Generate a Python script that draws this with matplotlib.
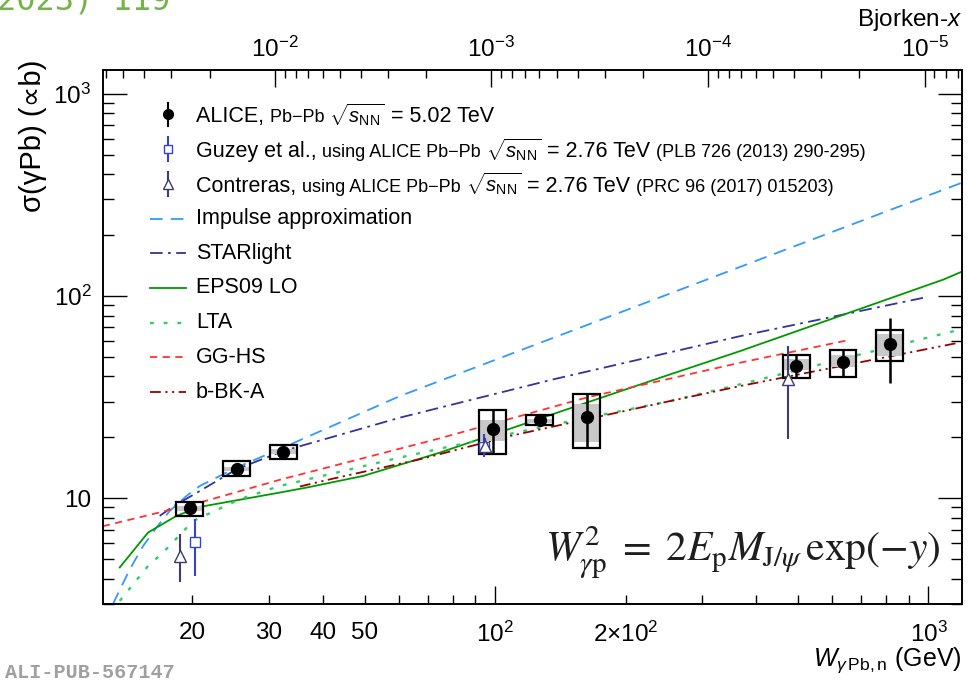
import numpy as np
import matplotlib
matplotlib.use('Agg')
import matplotlib.pyplot as plt
from matplotlib.patches import Rectangle
from matplotlib.lines import Line2D
from matplotlib.offsetbox import TextArea, HPacker, VPacker, DrawingArea, AnchoredOffsetbox
from matplotlib.ticker import FixedLocator, FixedFormatter, NullFormatter, LogLocator

plt.rcParams['font.family'] = ['Liberation Sans', 'DejaVu Sans']
plt.rcParams['mathtext.fontset'] = 'custom'
plt.rcParams['mathtext.rm'] = 'Liberation Sans'
plt.rcParams['mathtext.it'] = 'Liberation Sans:italic'
plt.rcParams['mathtext.bf'] = 'Liberation Sans:bold'
plt.rcParams['mathtext.sf'] = 'Liberation Sans'

# ---------------- data ----------------
alice_W = [19.7, 25.3, 32.4, 98.7, 126.6, 162.6, 495.7, 635.0, 814.0]
alice_sigma = [8.93, 14.0, 17.0, 21.9, 24.3, 25.2, 45.0, 47.1, 57.6]
alice_stat_lo = [8.8, 13.85, 16.8, 16.5, 24.0, 17.8, 39.1, 39.9, 37.1]
alice_stat_hi = [9.1, 14.15, 17.2, 27.2, 24.6, 32.6, 51.0, 53.9, 78.2]
alice_syst_lo = [8.18, 12.88, 15.57, 16.5, 22.9, 17.8, 39.1, 39.9, 47.6]
alice_syst_hi = [9.59, 15.27, 18.34, 27.2, 25.8, 32.6, 51.0, 53.9, 67.8]
alice_corr_lo = [8.65, 13.64, 16.5, 19.2, 23.6, 18.9, 43.1, 44.3, 50.5]
alice_corr_hi = [9.16, 14.34, 17.44, 24.5, 24.75, 29.1, 48.6, 50.8, 64.6]

guzey_W = [20.25, 94.2]
guzey_sigma = [6.11, 17.86]
guzey_lo = [4.14, 15.95]
guzey_hi = [7.88, 20.7]

contreras_W = [18.77, 94.7, 473.8]
contreras_sigma = [5.19, 18.13, 38.7]
contreras_lo = [3.85, 16.6, 19.56]
contreras_hi = [6.64, 19.8, 56.3]

ia_W = [13.11, 14.34, 15.39, 16.52, 17.73, 19.38, 20.80, 25.28, 32.39, 60.24, 1196]
ia_sigma = [3.00, 4.46, 5.81, 7.17, 8.66, 10.26, 11.50, 14.18, 17.80, 32.0, 363.5]

star_W = [16.81, 17.89, 20.80, 25.28, 32.39, 60.24, 136.1, 367.4, 974]
star_sigma = [8.18, 9.00, 10.86, 13.91, 17.12, 25.03, 38.7, 63.3, 98.0]

eps_W = [13.59, 15.80, 18.37, 20.80, 31.82, 36.68, 49.56, 74.5, 162.6, 253.2, 367.4, 1083, 1196]
eps_sigma = [4.55, 6.77, 8.18, 9.06, 10.67, 11.29, 12.89, 16.81, 29.7, 40.95, 53.4, 120.6, 132.1]

lta_W = [13.59, 15.80, 17.11, 20.07, 25.73, 31.82, 60.24, 74.5, 143.6, 253.2, 367.4, 1184]
lta_sigma = [3.11, 4.63, 5.39, 7.72, 9.89, 11.50, 15.89, 17.59, 23.65, 30.23, 36.56, 68.3]

gghs_W = [12.42, 20.80, 31.82, 74.5, 162.8, 367.4, 653.5]
gghs_sigma = [7.27, 9.52, 12.34, 19.79, 31.5, 46.79, 60.5]

bbk_W = [35.4, 42.25, 57.1, 67.0, 108.1, 253.2, 367.4, 1173]
bbk_sigma = [11.43, 12.51, 14.44, 15.58, 20.31, 30.23, 35.86, 58.7]

x_tick_major = [100, 1000]
x_tick_major_labels = [r'$10^2$', r'$10^3$']
x_tick_minor_labeled = {20: '20', 30: '30', 40: '40', 50: '50', 200: r'$2{\times}10^2$'}

M_JPSI = 3.0969
W_MIN, W_MAX = 12.4, 1195.0
S_MIN, S_MAX = 3.0, 1310.0

# ---------------- styles ----------------
C_IA = '#3399ff'
C_STAR = '#333399'
C_EPS = '#009900'
C_LTA = '#33cc66'
C_GG = '#ff3333'
C_BBK = '#990000'
C_GUZ = '#3344cc'
C_CON = '#3c3c6e'
LW = 1.3
styles = {
    'ia': dict(color=C_IA, lw=LW, dashes=(7, 4.5)),
    'star': dict(color=C_STAR, lw=LW, dashes=(7, 3, 1.5, 3)),
    'eps': dict(color=C_EPS, lw=LW, linestyle='-'),
    'lta': dict(color=C_LTA, lw=LW + 0.4, dashes=(1.6, 4.2)),
    'gg': dict(color=C_GG, lw=LW, dashes=(4, 3)),
    'bbk': dict(color=C_BBK, lw=LW, dashes=(6, 2.5, 1.2, 2.5, 1.2, 2.5)),
}

fig = plt.figure(figsize=(9.68, 6.83), dpi=100)
L, R, T, B = 102.5, 962, 70, 604
ax = fig.add_axes([L / 968, 1 - B / 683, (R - L) / 968, (B - T) / 683])
ax.set_xscale('log')
ax.set_yscale('log')
ax.set_xlim(W_MIN, W_MAX)
ax.set_ylim(S_MIN, S_MAX)

# curves
ax.plot(ia_W, ia_sigma, **styles['ia'], zorder=2)
ax.plot(star_W, star_sigma, **styles['star'], zorder=2)
ax.plot(eps_W, eps_sigma, **styles['eps'], zorder=2)
ax.plot(lta_W, lta_sigma, **styles['lta'], zorder=2)
ax.plot(gghs_W, gghs_sigma, **styles['gg'], zorder=2)
ax.plot(bbk_W, bbk_sigma, **styles['bbk'], zorder=2)

# ALICE boxes
fbox = 10 ** 0.031
for w, clo, chi, slo, shi in zip(alice_W, alice_corr_lo, alice_corr_hi, alice_syst_lo, alice_syst_hi):
    ax.add_patch(Rectangle((w / fbox, clo), w * fbox - w / fbox, chi - clo,
                           facecolor='#c8c8c8', edgecolor='none', zorder=3))
    ax.add_patch(Rectangle((w / fbox, slo), w * fbox - w / fbox, shi - slo,
                           facecolor='none', edgecolor='black', lw=1.6, zorder=4))
asig = np.array(alice_sigma)
ax.errorbar(alice_W, asig, yerr=[asig - np.array(alice_stat_lo), np.array(alice_stat_hi) - asig],
            fmt='o', color='black', ms=8.5, elinewidth=1.8, capsize=0, zorder=5)

gs = np.array(guzey_sigma)
ax.errorbar(guzey_W, gs, yerr=[gs - np.array(guzey_lo), np.array(guzey_hi) - gs],
            fmt='s', mfc='white', mec=C_GUZ, color=C_GUZ, ms=7, mew=1.0, elinewidth=1.5,
            capsize=0, zorder=6)
cs = np.array(contreras_sigma)
ax.errorbar(contreras_W, cs, yerr=[cs - np.array(contreras_lo), np.array(contreras_hi) - cs],
            fmt='^', mfc='white', mec=C_CON, color=C_CON, ms=8, mew=1.0, elinewidth=1.5,
            capsize=0, zorder=6)

# ticks
for sp in ax.spines.values():
    sp.set_linewidth(1.2)
ax.xaxis.set_major_locator(FixedLocator(x_tick_major))
ax.xaxis.set_major_formatter(FixedFormatter(x_tick_major_labels))
minor_locs = [m * 10 ** e for e in (1, 2) for m in range(2, 10)]
ax.xaxis.set_minor_locator(FixedLocator(minor_locs))
ax.xaxis.set_minor_formatter(FixedFormatter([x_tick_minor_labeled.get(v, '') for v in minor_locs]))
ax.tick_params(axis='x', which='both', direction='in', top=False, bottom=True,
               labelsize=17.5, pad=13, width=1.0)
ax.tick_params(axis='x', which='major', length=13)
ax.tick_params(axis='x', which='minor', length=6.5)

ax.set_yticks([10, 100, 1000])
ax.set_yticklabels(['10', r'$10^2$', r'$10^3$'])
ax.yaxis.set_minor_locator(LogLocator(base=10, subs=np.arange(2, 10), numticks=20))
ax.yaxis.set_minor_formatter(NullFormatter())
ax.tick_params(axis='y', which='both', direction='in', left=True, right=True,
               labelsize=17.5, pad=8, width=1.0)
ax.tick_params(axis='y', which='major', length=17)
ax.tick_params(axis='y', which='minor', length=8)

# top Bjorken-x axis
ax2 = ax.twiny()
ax2.set_xscale('log')
ax2.set_xlim((M_JPSI / W_MIN) ** 2, (M_JPSI / W_MAX) ** 2)
ax2.xaxis.set_major_locator(LogLocator(base=10, numticks=10))
ax2.xaxis.set_minor_locator(LogLocator(base=10, subs=np.arange(2, 10), numticks=20))
ax2.xaxis.set_minor_formatter(NullFormatter())
ax2.tick_params(axis='x', which='both', direction='in', labelsize=17.5, pad=6, width=1.0)
ax2.tick_params(axis='x', which='major', length=12)
ax2.tick_params(axis='x', which='minor', length=6)
for sp in ax2.spines.values():
    sp.set_linewidth(1.2)

# axis titles
fig.text(33 / 968, 1 - 60 / 683, 'σ(γPb) (∝b)', rotation=90, ha='center', va='top', fontsize=21)
fig.text(962 / 968, 1 - 660 / 683, r'$W_{\gamma\,\mathrm{Pb,n}}$ (GeV)', ha='right', va='center', fontsize=18)
fig.text(962 / 968, 1 - 20 / 683, r'Bjorken-$x$', ha='right', va='center', fontsize=17.5)

# legend (manual)
BIG, SMALL = 15.5, 13.0


def sample_line(st):
    da = DrawingArea(26, 25, 0, 0)
    kw = dict(st)
    da.add_artist(Line2D([0, 26], [12.5, 12.5], **kw))
    return da


def sample_marker(marker, color, mfc, ms):
    da = DrawingArea(26, 25, 0, 0)
    da.add_artist(Line2D([13, 13], [4, 21], color=color, lw=1.5))
    da.add_artist(Line2D([13], [12.5], marker=marker, color=color, mfc=mfc, mec=color, ms=ms, mew=1.0, lw=0))
    return da


def T(s, size=BIG):
    return TextArea(s, textprops=dict(fontsize=size, color='black'))


sq = r'$\sqrt{s_{\mathrm{NN}}}$'
rows = [
    [sample_marker('o', 'black', 'black', 7), T('ALICE, '), T('Pb−Pb ', SMALL), T(sq, 14.5), T(' = 5.02 TeV')],
    [sample_marker('s', C_GUZ, 'white', 6), T('Guzey et al., '), T('using ALICE Pb−Pb ', SMALL), T(sq, 14.5),
     T(' = 2.76 TeV '), T('(PLB 726 (2013) 290-295)', SMALL)],
    [sample_marker('^', C_CON, 'white', 7), T('Contreras, '), T('using ALICE Pb−Pb ', SMALL), T(sq, 14.5),
     T(' = 2.76 TeV '), T('(PRC 96 (2017) 015203)', SMALL)],
    [sample_line(styles['ia']), T('Impulse approximation')],
    [sample_line(styles['star']), T('STARlight')],
    [sample_line(styles['eps']), T('EPS09 LO')],
    [sample_line(styles['lta']), T('LTA')],
    [sample_line(styles['gg']), T('GG-HS')],
    [sample_line(styles['bbk']), T('b-BK-A')],
]
hrows = []
for r in rows:
    txt = HPacker(children=r[1:], align='baseline', pad=0, sep=0)
    hrows.append(HPacker(children=[r[0], txt], align='center', pad=0, sep=7))
vp = VPacker(children=hrows, align='left', pad=0, sep=0)
anch = AnchoredOffsetbox(loc='upper left', child=vp, pad=0, borderpad=0, frameon=False,
                         bbox_to_anchor=(150 / 968, 1 - 97 / 683), bbox_transform=fig.transFigure)
ax.add_artist(anch)

# formula
fig.text(940 / 968, 1 - 552 / 683,
         r'$W_{\gamma\mathrm{p}}^{2}\;=\;2E_{\mathrm{p}}M_{\mathrm{J}/\psi}\,\exp(-y)$',
         ha='right', va='center', fontsize=30, color='#1e1e1e', math_fontfamily='stix')

# header / footer texts
fig.text(-3 / 968, 1 - 10 / 683, '2023) 119', fontfamily='DejaVu Sans Mono', fontsize=23,
         color='#72b34a', ha='left', va='baseline')
fig.text(5 / 968, 1 - 672 / 683, 'ALI-PUB-567147', fontfamily='Liberation Mono', fontweight='bold',
         fontsize=14.5, color='#a0a0a0', ha='left', va='center')

fig.savefig('out.png', dpi=100)
